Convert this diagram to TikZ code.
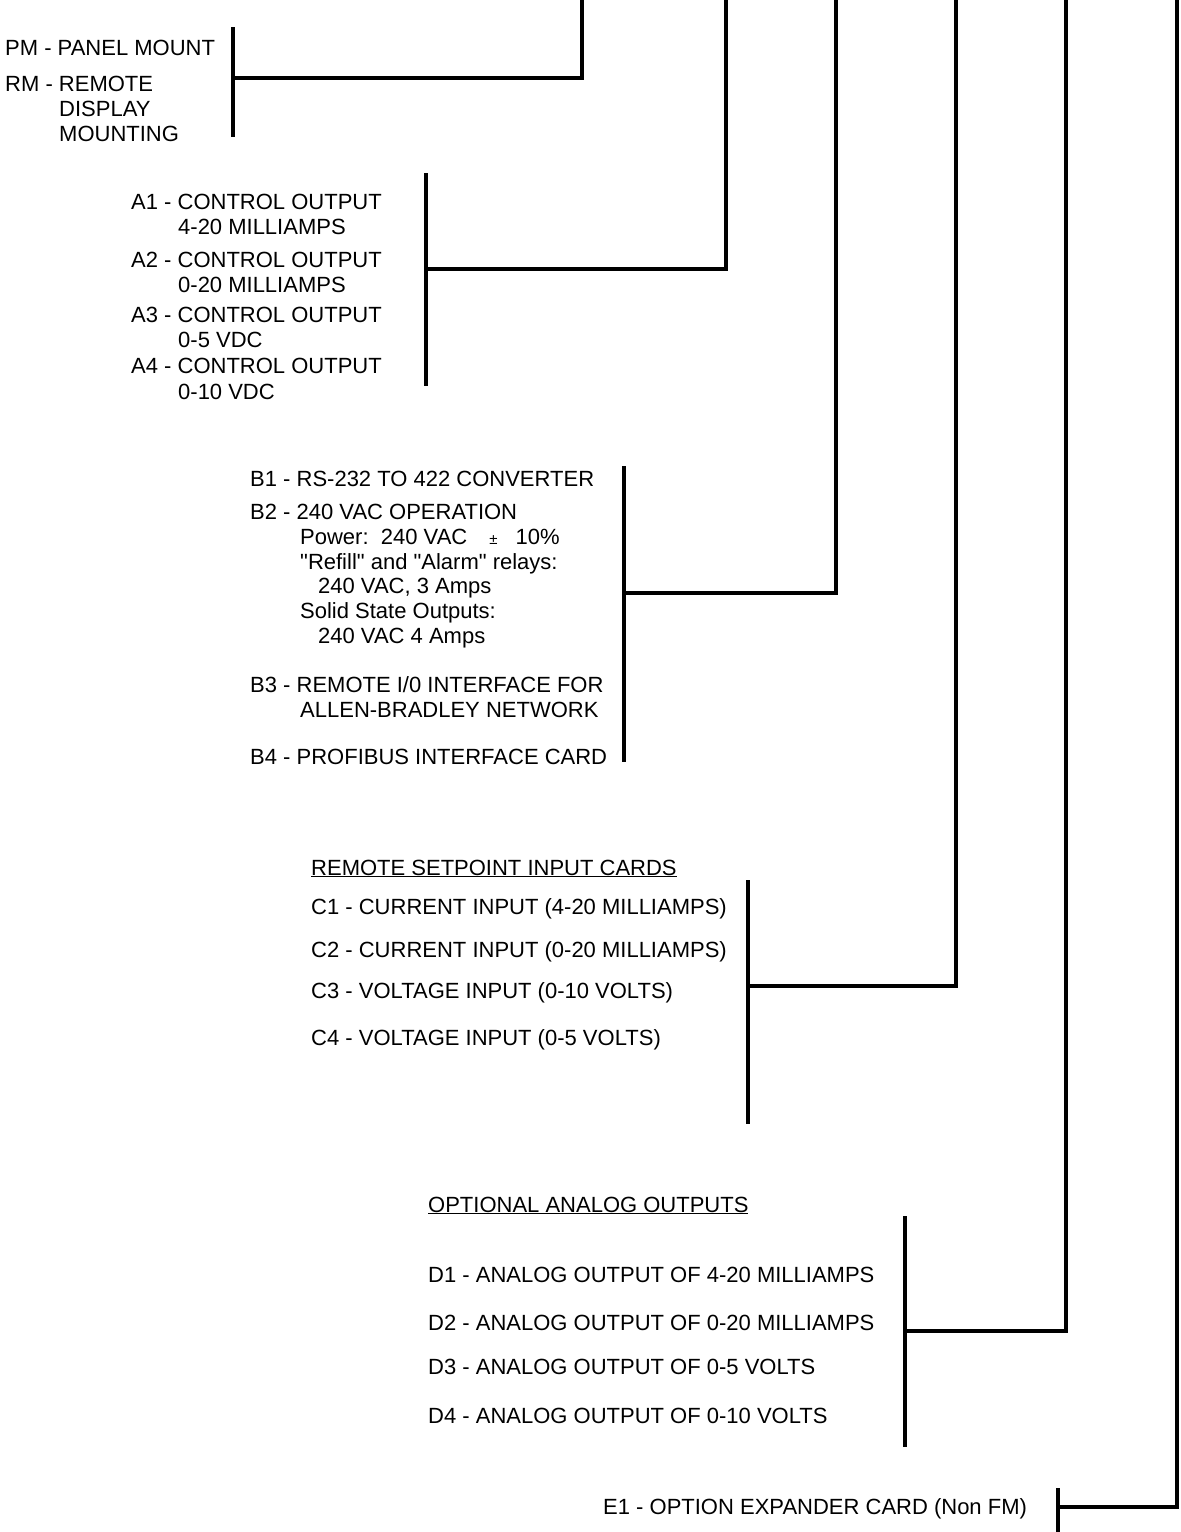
\documentclass[tikz,border=0pt]{standalone}
\usepackage{fontspec}
\setmainfont{Liberation Sans}[Ligatures=TeXOff]
\begin{document}
\begin{tikzpicture}[x=1pt,y=-1pt,
  lbl/.style={anchor=base west,inner sep=0pt,font=\fontsize{22}{24}\selectfont},
  bar/.style={line width=4pt},
  wire/.style={line width=3.5pt}]
\useasboundingbox (0,0) rectangle (1181,1532);
% PM / RM group
\node[lbl] (pm) at (5,55) {PM - PANEL MOUNT};
\node[lbl] (rm) at (5,91) {RM - REMOTE};
\node[lbl] (rm2) at (59,116) {DISPLAY};
\node[lbl] (rm3) at (59,141) {MOUNTING};
% A group
\node[lbl] (a1) at (131,209) {A1 - CONTROL OUTPUT};
\node[lbl] (a1b) at (178,234) {4-20 MILLIAMPS};
\node[lbl] (a2) at (131,267) {A2 - CONTROL OUTPUT};
\node[lbl] (a2b) at (178,292) {0-20 MILLIAMPS};
\node[lbl] (a3) at (131,322) {A3 - CONTROL OUTPUT};
\node[lbl] (a3b) at (178,347) {0-5 VDC};
\node[lbl] (a4) at (131,373) {A4 - CONTROL OUTPUT};
\node[lbl] (a4b) at (178,399) {0-10 VDC};
% B group
\node[lbl] (b1) at (250,486) {B1 - RS-232 TO 422 CONVERTER};
\node[lbl] (b2) at (250,519) {B2 - 240 VAC OPERATION};
\node[lbl] (b2a) at (300,544) {Power:\ \ 240 VAC\hspace{22pt}{\fontsize{15}{15}\selectfont ±}\hspace{18pt}10\%};
\node[lbl] (b2b) at (300,569) {"Refill" and "Alarm" relays:};
\node[lbl] (b2c) at (318,593) {240 VAC, 3 Amps};
\node[lbl] (b2d) at (300,618) {Solid State Outputs:};
\node[lbl] (b2e) at (318,643) {240 VAC 4 Amps};
\node[lbl] (b3) at (250,692) {B3 - REMOTE I/0 INTERFACE FOR};
\node[lbl] (b3b) at (300,717) {ALLEN-BRADLEY NETWORK};
\node[lbl] (b4) at (250,764) {B4 - PROFIBUS INTERFACE CARD};
% C group
\node[lbl] (ch) at (311,875) {\underline{REMOTE SETPOINT INPUT CARDS}};
\node[lbl] (c1) at (311,914) {C1 - CURRENT INPUT (4-20 MILLIAMPS)};
\node[lbl] (c2) at (311,957) {C2 - CURRENT INPUT (0-20 MILLIAMPS)};
\node[lbl] (c3) at (311,998) {C3 - VOLTAGE INPUT (0-10 VOLTS)};
\node[lbl] (c4) at (311,1045) {C4 - VOLTAGE INPUT (0-5 VOLTS)};
% D group
\node[lbl] (dh) at (428,1212) {\underline{OPTIONAL ANALOG OUTPUTS}};
\node[lbl] (d1) at (428,1282) {D1 - ANALOG OUTPUT OF 4-20 MILLIAMPS};
\node[lbl] (d2) at (428,1330) {D2 - ANALOG OUTPUT OF 0-20 MILLIAMPS};
\node[lbl] (d3) at (428,1374) {D3 - ANALOG OUTPUT OF 0-5 VOLTS};
\node[lbl] (d4) at (428,1423) {D4 - ANALOG OUTPUT OF 0-10 VOLTS};
% E group
\node[lbl] (e1) at (603,1514) {E1 - OPTION EXPANDER CARD (Non FM)};
% bracket coordinates
\coordinate (pT) at (233,27);  \coordinate (pB) at (233,137);  \coordinate (pM) at (233,78);
\coordinate (aT) at (426,173); \coordinate (aB) at (426,386); \coordinate (aM) at (426,269);
\coordinate (bT) at (624,466); \coordinate (bB) at (624,762); \coordinate (bM) at (624,593);
\coordinate (cT) at (748,880); \coordinate (cB) at (748,1124); \coordinate (cM) at (748,986);
\coordinate (dT) at (905,1216); \coordinate (dB) at (905,1447); \coordinate (dM) at (905,1331);
\coordinate (eT) at (1058,1488); \coordinate (eB) at (1058,1532); \coordinate (eM) at (1058,1507);
% trunk tops
\coordinate (tp) at (582,0); \coordinate (ta) at (726,0); \coordinate (tb) at (836,0);
\coordinate (tc) at (956,0); \coordinate (td) at (1066,0); \coordinate (te) at (1177,0);
% brackets
\draw[bar] (pT) -- (pB);
\draw[bar] (aT) -- (aB);
\draw[bar] (bT) -- (bB);
\draw[bar] (cT) -- (cB);
\draw[bar] (dT) -- (dB);
\draw[bar] (eT) -- (eB);
% connectors
\draw[wire] (pM) -| (tp);
\draw[wire] (aM) -| (ta);
\draw[wire] (bM) -| (tb);
\draw[wire] (cM) -| (tc);
\draw[wire] (dM) -| (td);
\draw[wire] (eM) -| (te);
\end{tikzpicture}
\end{document}
